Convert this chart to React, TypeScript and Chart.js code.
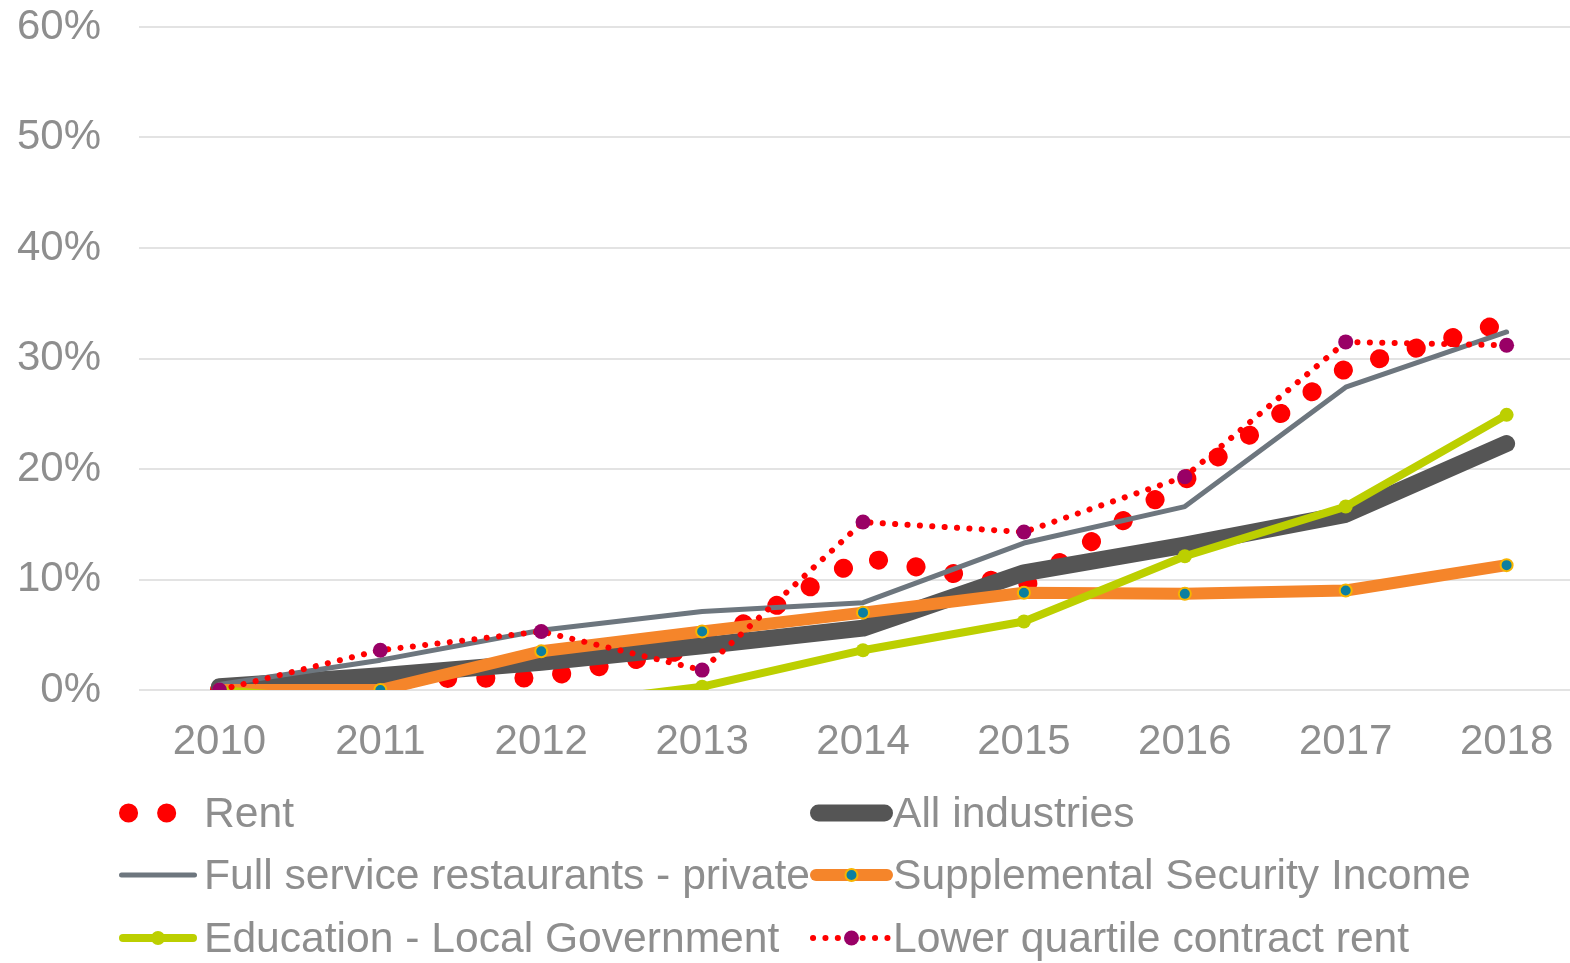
import React, { useEffect, useRef } from 'react';
import { Chart, registerables } from 'chart.js';

Chart.register(...registerables);

// ---- data (percent change since 2010) ----
const years = [2010, 2011, 2012, 2013, 2014, 2015, 2016, 2017, 2018];
const rent = [0, 1.0, 1.1, 3.9, 12.0, 9.4, 19.0, 29.1, 33.3];
const allIndustries = [0.3, 1.3, 2.5, 4.0, 5.6, 10.6, 13.1, 15.9, 22.3];
const fullService = [0.5, 2.7, 5.4, 7.1, 7.9, 13.3, 16.6, 27.4, 32.4];
const ssi = [0, 0, 3.5, 5.3, 7.0, 8.8, 8.7, 9.0, 11.3];
const education = [0, -1.2, -1.5, 0.3, 3.6, 6.2, 12.1, 16.6, 24.9];
const lowerQuartile = [0, 3.6, 5.3, 1.8, 15.2, 14.3, 19.3, 31.5, 31.2];

const seriesNames = [
  'Rent',
  'All industries',
  'Full service restaurants - private',
  'Supplemental Security Income',
  'Education - Local Government',
  'Lower quartile contract rent',
];

const yMin = 0;
const yMax = 60;
const yStep = 10;

const FONT = '"Liberation Sans", Arial, Helvetica, sans-serif';
const TEXT = '#8e8e8e';

const legendPlugin = {
  id: 'gridLegend',
  afterDraw(chart: any) {
    const ctx = chart.ctx as CanvasRenderingContext2D;
    const cols = [
      { x0: 119, x1: 197, tx: 204 },
      { x0: 810, x1: 893, tx: 893 },
    ];
    const baselines = [827, 889, 952];
    chart.data.datasets.forEach((ds: any, i: number) => {
      const col = cols[i % 2];
      const base = baselines[Math.floor(i / 2)];
      const y = base - 14;
      const w = ds.borderWidth;
      ctx.save();
      ctx.lineCap = 'round';
      ctx.lineJoin = 'round';
      ctx.strokeStyle = ds.borderColor;
      ctx.lineWidth = w;
      ctx.setLineDash(ds.borderDash || []);
      const sx = col.x0 + w / 2;
      const ex = col.x1 - w / 2;
      ctx.beginPath();
      ctx.moveTo(sx, y);
      ctx.lineTo(ex, y);
      ctx.stroke();
      ctx.setLineDash([]);
      const r = typeof ds.pointRadius === 'function' ? 7 : ds.pointRadius || 0;
      if (r > 0) {
        const mx = (col.x0 + col.x1) / 2;
        ctx.beginPath();
        ctx.arc(mx, y, r, 0, Math.PI * 2);
        ctx.fillStyle = ds.pointBackgroundColor;
        ctx.fill();
        if (ds.pointBorderWidth) {
          ctx.lineWidth = ds.pointBorderWidth;
          ctx.strokeStyle = ds.pointBorderColor;
          ctx.stroke();
        }
      }
      ctx.font = `42.6px ${FONT}`;
      ctx.fillStyle = TEXT;
      ctx.textAlign = 'left';
      ctx.textBaseline = 'alphabetic';
      ctx.fillText(ds.label, col.tx, base);
      ctx.restore();
    });
  },
};

export default function App() {
  const canvasRef = useRef<HTMLCanvasElement | null>(null);

  useEffect(() => {
    document.body.style.margin = '0';
    document.body.style.overflow = 'hidden';
    const canvas = canvasRef.current;
    if (!canvas) return;
    const common = {
      borderCapStyle: 'round',
      borderJoinStyle: 'round',
      tension: 0,
    };
    const chart = new Chart(canvas, {
      type: 'line',
      data: {
        labels: years,
        datasets: [
          {
            ...common,
            label: seriesNames[0],
            data: rent,
            borderColor: '#ff0000',
            borderWidth: 19,
            borderDash: [0.1, 38],
            pointRadius: 0,
            order: 6,
          },
          {
            ...common,
            label: seriesNames[1],
            data: allIndustries,
            borderColor: '#555555',
            borderWidth: 17,
            pointRadius: 0,
            order: 5,
          },
          {
            ...common,
            label: seriesNames[2],
            data: fullService,
            borderColor: '#6d767e',
            borderWidth: 5,
            pointRadius: 0,
            order: 4,
          },
          {
            ...common,
            label: seriesNames[3],
            data: ssi,
            borderColor: '#f5852a',
            borderWidth: 12,
            pointRadius: 6,
            pointBackgroundColor: '#0b7fa0',
            pointBorderColor: '#f7b500',
            pointBorderWidth: 2,
            order: 3,
          },
          {
            ...common,
            label: seriesNames[4],
            data: education,
            borderColor: '#bccf00',
            borderWidth: 8,
            pointRadius: (c: any) => (c.raw < 0 ? 0 : 7),
            pointBackgroundColor: '#bccf00',
            pointBorderWidth: 0,
            clip: { left: 30, right: 30, top: 30, bottom: 0 },
            order: 2,
          },
          {
            ...common,
            label: seriesNames[5],
            data: lowerQuartile,
            borderColor: '#ff0000',
            borderWidth: 6,
            borderDash: [0.1, 12.3],
            pointRadius: 7.5,
            pointBackgroundColor: '#990066',
            pointBorderWidth: 0,
            order: 1,
          },
        ] as any,
      },
      options: {
        responsive: false,
        animation: false,
        devicePixelRatio: 1,
        events: [],
        layout: { autoPadding: false, padding: { left: 17, top: 27, right: 0, bottom: 196 } },
        plugins: {
          legend: { display: false },
          tooltip: { enabled: false },
        },
        scales: {
          x: {
            type: 'linear',
            min: 2009.5,
            max: 2018.394,
            grid: { display: false, drawTicks: false },
            border: { display: false },
            ticks: {
              stepSize: 1,
              includeBounds: false,
              autoSkip: false,
              maxRotation: 0,
              padding: 27,
              color: TEXT,
              font: { family: FONT, size: 42 },
              callback: (v: any) => String(v),
            },
            afterFit: (s: any) => {
              s.height = 77;
              s.paddingLeft = 0;
              s.paddingRight = 0;
              s.paddingTop = 0;
              s.paddingBottom = 0;
            },
          },
          y: {
            min: yMin,
            max: yMax,
            grid: { color: '#e3e3e3', lineWidth: 2, drawTicks: false },
            border: { display: false },
            ticks: {
              stepSize: yStep,
              padding: 38,
              color: TEXT,
              font: { family: FONT, size: 42 },
              callback: (v: any) => `${v}%`,
            },
            afterFit: (s: any) => {
              s.width = 122;
              s.paddingLeft = 0;
              s.paddingRight = 0;
              s.paddingTop = 0;
              s.paddingBottom = 0;
            },
          },
        },
      } as any,
      plugins: [legendPlugin],
    });
    return () => chart.destroy();
  }, []);

  return (
    <div style={{ position: 'fixed', left: 0, top: 0, width: 1570, height: 963, background: '#fff' }}>
      <canvas ref={canvasRef} width={1570} height={963} style={{ display: 'block', width: 1570, height: 963 }} />
    </div>
  );
}
